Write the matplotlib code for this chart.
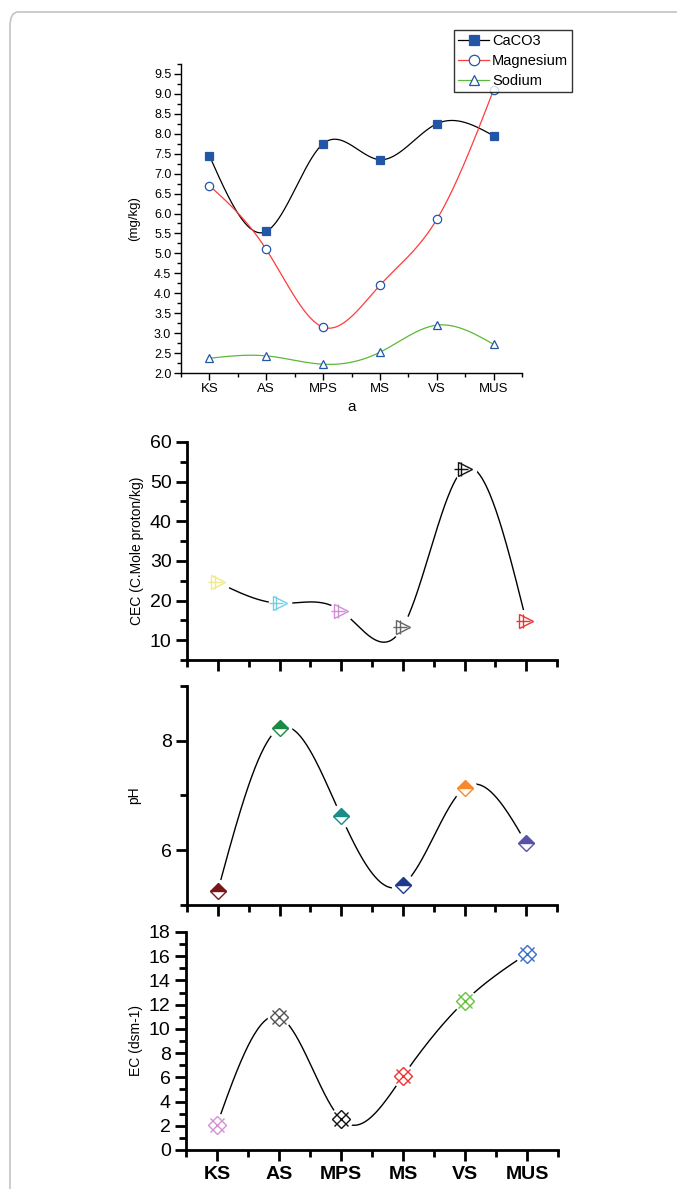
import numpy as np
import matplotlib
matplotlib.use("Agg")
import matplotlib.pyplot as plt
from matplotlib.patches import FancyBboxPatch
from matplotlib.lines import Line2D
from matplotlib.ticker import MultipleLocator, FixedLocator

plt.rcParams['font.family'] = ['Liberation Sans', 'DejaVu Sans']
NARROW = ['Liberation Sans Narrow', 'Liberation Sans', 'DejaVu Sans']

# --------- DATA ----------
sites = ["KS", "AS", "MPS", "MS", "VS", "MUS"]
caco3 = [7.45, 5.55, 7.75, 7.35, 8.25, 7.95]
magnesium = [6.7, 5.1, 3.15, 4.2, 5.85, 9.1]
sodium = [2.37, 2.43, 2.22, 2.52, 3.2, 2.72]
cec = [24.6, 19.3, 17.4, 13.3, 53.3, 14.9]
ph = [5.26, 8.23, 6.62, 5.37, 7.14, 6.13]
ec = [2.1, 11.0, 2.55, 6.1, 12.3, 16.2]

cec_colors = ["#f0ea8a", "#6fd0e6", "#d48ed4", "#666666", "#111111", "#ee3333"]
ph_colors = ["#7a1618", "#1b8a45", "#1a8c8a", "#1e3a8a", "#f7892a", "#5a52a8"]
ec_colors = ["#d690d6", "#555555", "#111111", "#ee3333", "#66c23a", "#3a6cc8"]

W, H = 677, 1189


def spline(x, y, n=300):
    # natural cubic spline for the smooth connecting line
    x = np.asarray(x, float)
    y = np.asarray(y, float)
    m = len(x)
    h = np.diff(x)
    A = np.zeros((m, m))
    r = np.zeros(m)
    A[0, 0] = A[-1, -1] = 1
    for i in range(1, m - 1):
        A[i, i - 1] = h[i - 1]
        A[i, i] = 2 * (h[i - 1] + h[i])
        A[i, i + 1] = h[i]
        r[i] = 3 * ((y[i + 1] - y[i]) / h[i] - (y[i] - y[i - 1]) / h[i - 1])
    c = np.linalg.solve(A, r)
    b = (y[1:] - y[:-1]) / h - h * (2 * c[:-1] + c[1:]) / 3
    d = (c[1:] - c[:-1]) / (3 * h)
    xs = np.linspace(x[0], x[-1], n)
    idx = np.clip(np.searchsorted(x, xs) - 1, 0, m - 2)
    t = xs - x[idx]
    return xs, y[idx] + b[idx] * t + c[idx] * t ** 2 + d[idx] * t ** 3


def box(l, t, r, b):
    return [l / W, 1 - b / H, (r - l) / W, (b - t) / H]


def style_axes(ax, lw, major_len, minor_len):
    ax.spines["top"].set_visible(False)
    ax.spines["right"].set_visible(False)
    ax.spines["left"].set_linewidth(lw)
    ax.spines["bottom"].set_linewidth(lw)
    ax.tick_params(which="major", direction="out", length=major_len, width=lw)
    ax.tick_params(which="minor", direction="out", length=minor_len, width=lw)
    ax.set_xlim(-0.5, 5.5)
    ax.xaxis.set_major_locator(FixedLocator(range(len(sites))))
    ax.xaxis.set_minor_locator(FixedLocator(np.arange(-0.5, 5.6, 1.0)))


fig = plt.figure(figsize=(W / 100, H / 100), dpi=100)

# outer frame
fig.patches.append(FancyBboxPatch((10 / W, -0.05), 1.2, 1 - 12 / H + 0.05,
                                  boxstyle="round,pad=0,rounding_size=0.012",
                                  transform=fig.transFigure, fill=False,
                                  edgecolor="#c4c4c4", linewidth=1.2))

x = np.arange(len(sites))

# --------- PANEL a ----------
ax1 = fig.add_axes(box(181, 64, 522, 373))
style_axes(ax1, 1.0, 5, 3)
ax1.set_ylim(2.0, 9.75)
ax1.yaxis.set_major_locator(MultipleLocator(0.5))
ax1.yaxis.set_minor_locator(MultipleLocator(0.25))
ax1.yaxis.set_major_formatter(matplotlib.ticker.FormatStrFormatter("%.1f"))
ax1.set_xticks(x)
ax1.set_xticklabels(sites, fontsize=9.5, family=NARROW)
for lab in ax1.get_yticklabels():
    lab.set_fontsize(9)
    lab.set_family(NARROW)
ax1.tick_params(axis="both", pad=2)

series = [
    (caco3, "black", "s", "#2456a8", "CaCO3"),
    (magnesium, "#ff3b3b", "o", "white", "Magnesium"),
    (sodium, "#5cb838", "^", "white", "Sodium"),
]
handles = []
for vals, lc, mk, fc, name in series:
    xs, ys = spline(x, vals)
    ax1.plot(xs, ys, color=lc, lw=0.9, zorder=2)
    ax1.plot(x, vals, ls="none", marker=mk, ms=6, mfc=fc, mec="#2456a8",
             mew=0.9, zorder=3, clip_on=False)
    handles.append(Line2D([], [], color=lc, lw=0.9, marker=mk, ms=7.5, mfc=fc,
                          mec="#2456a8", mew=0.9, label=name))
ax1.set_ylabel("(mg/kg)", fontsize=9.5, labelpad=10)
ax1.set_xlabel("a", fontsize=11, labelpad=4)

leg = fig.legend(handles=handles, loc="upper left",
                 bbox_to_anchor=(454 / W, 1 - 30 / H), frameon=True,
                 fancybox=False, handlelength=2.1,
                 handletextpad=0.2, borderpad=0.3, labelspacing=0.4,
                 borderaxespad=0, prop={"family": NARROW, "size": 10.5})
leg.get_frame().set_edgecolor("black")
leg.get_frame().set_linewidth(1.0)


def marker_panel(ax, vals, colors, kind):
    xs, ys = spline(x, vals)
    ax.plot(xs, ys, color="black", lw=1.0, zorder=2)
    # white halo so the line stops short of each symbol
    ax.plot(x, vals, ls="none", marker="o", ms=17, mfc="white", mec="none",
            zorder=2.2)
    for xi, v, c in zip(x, vals, colors):
        if kind == "tri":
            ax.plot(xi, v, marker=">", ms=10, mfc="none", mec=c, mew=1.0, zorder=3)
            ax.plot(xi - 0.05, v, marker="+", ms=10, mec=c, mew=1.0, zorder=3)
        elif kind == "dia":
            ax.plot(xi, v, marker="D", ms=8.5, fillstyle="top", mfc=c,
                    mfcalt="white", mec=c, mew=1.0, zorder=3)
        else:
            ax.plot(xi, v, marker="D", ms=9, mfc="none", mec=c, mew=1.0, zorder=3)
            ax.plot(xi, v, marker="x", ms=10, mec=c, mew=1.0, zorder=3)


# --------- CEC ----------
ax2 = fig.add_axes(box(187, 442, 557, 660))
style_axes(ax2, 2.0, 8, 5)
ax2.set_ylim(5, 60)
ax2.yaxis.set_major_locator(MultipleLocator(10))
ax2.yaxis.set_minor_locator(MultipleLocator(5))
ax2.set_xticklabels([])
ax2.tick_params(axis="y", labelsize=14, pad=3)
marker_panel(ax2, cec, cec_colors, "tri")
ax2.set_ylabel("CEC (C.Mole proton/kg)", fontsize=10, labelpad=4)

# --------- pH ----------
ax3 = fig.add_axes(box(187, 686, 557, 905))
style_axes(ax3, 2.0, 8, 5)
ax3.set_ylim(5, 9)
ax3.yaxis.set_major_locator(MultipleLocator(2))
ax3.yaxis.set_minor_locator(MultipleLocator(1))
ax3.set_xticklabels([])
ax3.tick_params(axis="y", labelsize=14, pad=3)
marker_panel(ax3, ph, ph_colors, "dia")
ax3.set_ylabel("pH", fontsize=10, labelpad=14)

# --------- EC ----------
ax4 = fig.add_axes(box(186, 932, 558, 1150))
style_axes(ax4, 2.0, 8, 5)
ax4.set_ylim(0, 18)
ax4.yaxis.set_major_locator(MultipleLocator(2))
ax4.yaxis.set_minor_locator(MultipleLocator(1))
ax4.tick_params(axis="y", labelsize=14, pad=3)
ax4.set_xticks(x)
ax4.set_xticklabels(sites, fontsize=14, fontweight="bold", family=NARROW)
marker_panel(ax4, ec, ec_colors, "x")
ax4.set_ylabel("EC (dsm-1)", fontsize=10, labelpad=4)

fig.savefig("out.png", dpi=100)
